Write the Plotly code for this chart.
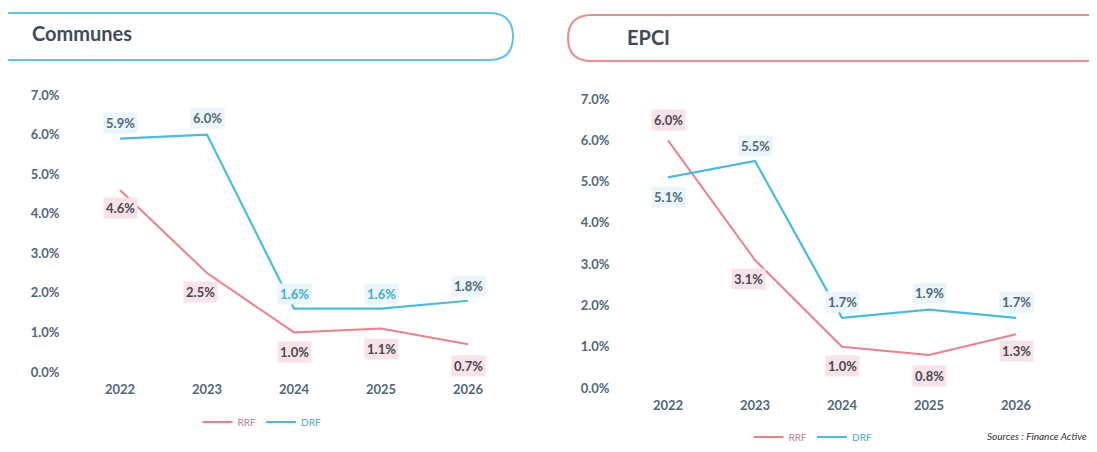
import plotly.graph_objects as go
from plotly.subplots import make_subplots

# Values (%)
years = ["2022", "2023", "2024", "2025", "2026"]
communes_rrf = [4.6, 2.5, 1.0, 1.1, 0.7]
communes_drf = [5.9, 6.0, 1.6, 1.6, 1.8]
epci_rrf = [6.0, 3.1, 1.0, 0.8, 1.3]
epci_drf = [5.1, 5.5, 1.7, 1.9, 1.7]
y_ticks = [0, 1, 2, 3, 4, 5, 6, 7]

# label offsets in px (above > 0, below < 0)
communes_rrf_shift = [-18, -19, -20, -21, -22]
communes_drf_shift = [16, 17, 15, 15, 15]
epci_rrf_shift = [20, -19, -19, -21, -17]
epci_drf_shift = [-20, 15, 16, 17, 16]
communes_drf_textcol = ["#50667C", "#50667C", "#3AAFD6", "#3AAFD6", "#50667C"]

RRF_COLOR = "#F07F8C"
DRF_COLOR = "#45BDE0"
TEXT = "#50667C"
FONT = "Lato"

# page body has an 8px margin, so the figure is sized to fit inside the window
W, H = 1081, 436
OFF = 8


def px(x):
    return (x - OFF) / W


def py(y):
    return 1 - (y - OFF) / H


fig = make_subplots(rows=1, cols=2)

panels = [
    (1, communes_rrf, communes_drf, communes_rrf_shift, communes_drf_shift, "legend"),
    (2, epci_rrf, epci_drf, epci_rrf_shift, epci_drf_shift, "legend2"),
]

annotations = []
for col, rrf, drf, rs, ds, leg in panels:
    xa = "x" if col == 1 else "x2"
    ya = "y" if col == 1 else "y2"
    fig.add_trace(go.Scatter(
        x=years, y=rrf, mode="lines", name="<span style='color:#C07A90'>RRF</span>",
        line=dict(color=RRF_COLOR, width=2), legend=leg, cliponaxis=False,
    ), row=1, col=col)
    fig.add_trace(go.Scatter(
        x=years, y=drf, mode="lines", name="<span style='color:#3FA8D0'>DRF</span>",
        line=dict(color=DRF_COLOR, width=2.2), legend=leg, cliponaxis=False,
    ), row=1, col=col)
    for i in range(len(years)):
        xs = -7 if i == 1 and rs[i] < 0 else 0
        annotations.append(dict(
            x=i, y=rrf[i], xref=xa, yref=ya, text=f"{rrf[i]:.1f}%",
            showarrow=False, yshift=rs[i], xshift=xs, bgcolor="#FAE3E8",
            font=dict(family=FONT, size=13, color="#44494F", weight="bold"),
            borderpad=2,
        ))
        dcol = communes_drf_textcol[i] if col == 1 else TEXT
        annotations.append(dict(
            x=i, y=drf[i], xref=xa, yref=ya, text=f"{drf[i]:.1f}%",
            showarrow=False, yshift=ds[i], bgcolor="#EAF6FA",
            font=dict(family=FONT, size=13, color=dcol, weight="bold"),
            borderpad=2,
        ))

# header titles and source
annotations.append(dict(
    x=px(30), y=py(33), xref="paper", yref="paper", text="<b>Communes</b>",
    showarrow=False, xanchor="left", yanchor="middle",
    font=dict(family=FONT, size=20, color="#3E4C5A"),
))
annotations.append(dict(
    x=px(625), y=py(37), xref="paper", yref="paper", text="<b>EPCI</b>",
    showarrow=False, xanchor="left", yanchor="middle",
    font=dict(family=FONT, size=20, color="#3E4C5A"),
))
annotations.append(dict(
    x=px(1089), y=py(444), xref="paper", yref="paper", text="Sources : Finance Active",
    showarrow=False, xanchor="right", yanchor="bottom",
    font=dict(family=FONT, size=10, color="#333", style="italic"),
))

shapes = [
    # Communes header (open left, rounded right end)
    dict(type="path", xref="paper", yref="paper",
         path=f"M {px(8)} {py(13)} L {px(489)} {py(13)} "
              f"Q {px(513)} {py(13)} {px(513)} {py(36.5)} "
              f"Q {px(513)} {py(60)} {px(489)} {py(60)} L {px(8)} {py(60)}",
         line=dict(color="#5CC3E6", width=2)),
    # EPCI header (rounded left end, open right)
    dict(type="path", xref="paper", yref="paper",
         path=f"M {px(1089)} {py(15)} L {px(592)} {py(15)} "
              f"Q {px(568)} {py(15)} {px(568)} {py(38)} "
              f"Q {px(568)} {py(61)} {px(592)} {py(61)} L {px(1089)} {py(61)}",
         line=dict(color="#EC8A96", width=2)),
]

axis_font = dict(family=FONT, size=13, color=TEXT, weight="bold")

fig.update_xaxes(type="category", range=[-0.5, 4.5], showgrid=False, zeroline=False,
                 showline=False, ticks="", tickfont=axis_font, ticklabelstandoff=8,
                 automargin=False)
fig.update_yaxes(range=[0, 7], tickvals=y_ticks, ticktext=[f"{v:.1f}%" for v in y_ticks],
                 showgrid=False, zeroline=False, showline=False, ticks="",
                 tickfont=axis_font, automargin=False)

fig.update_layout(
    width=W, height=H,
    margin=dict(l=0, r=0, t=0, b=0, autoexpand=False),
    paper_bgcolor="white", plot_bgcolor="white",
    xaxis=dict(domain=[px(76.5), px(511.5)]),
    xaxis2=dict(domain=[px(624.5), px(1059.5)]),
    yaxis=dict(domain=[py(372), py(95)], ticklabelstandoff=16),
    yaxis2=dict(domain=[py(388), py(99)], ticklabelstandoff=14),
    legend=dict(orientation="h", x=px(262), y=py(422), xanchor="center",
                yanchor="middle", font=dict(family=FONT, size=10), itemwidth=30,
                tracegroupgap=0),
    legend2=dict(orientation="h", x=px(813), y=py(437), xanchor="center",
                 yanchor="middle", font=dict(family=FONT, size=10), itemwidth=30,
                 tracegroupgap=0),
    annotations=annotations,
    shapes=shapes,
)

fig.write_html("out.html")
